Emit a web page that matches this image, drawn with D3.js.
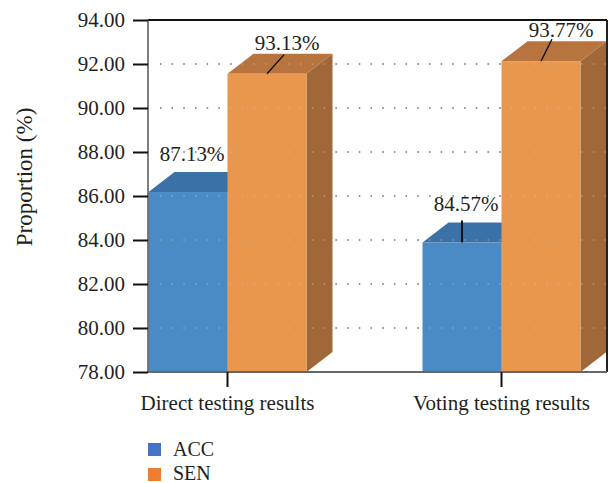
<!DOCTYPE html>
<meta charset="utf-8">
<title>Proportion</title>
<script src="https://d3js.org/d3.v7.min.js"></script>
<style>
  body { margin: 0; background: #fff; }
  text { font-family: "Liberation Serif", "DejaVu Serif", serif; fill: #231f20; }
</style>
<div id="my_dataviz"></div>
<script>
// data
var categories = ["Direct testing results", "Voting testing results"];
var series = ["ACC", "SEN"];
var accValues = [87.13, 84.57];
var senValues = [93.13, 93.77];
var yTicks = [78, 80, 82, 84, 86, 88, 90, 92, 94];

var colors = {
  ACC: { front: "#4a8bc6", top: "#3a72a8", side: "#33669a", legend: "#4472c4" },
  SEN: { front: "#ea974e", top: "#b8743f", side: "#a06838", legend: "#ed7d31" }
};

var W = 610, H = 483;
var plotLeft = 148, plotRight = 607, plotTop = 20, plotBottom = 372;
var depthX = 26, depthY = 20;
var frontScale = 0.896;   // front face is drawn a bit shorter than the back wall
var fontSize = "21px";

var svg = d3.select("#my_dataviz")
  .append("svg")
  .attr("width", W)
  .attr("height", H);

var y = d3.scaleLinear().domain([78, 94]).range([plotBottom, plotTop]);
var yFront = d3.scaleLinear().domain([78, 94])
  .range([plotBottom, plotBottom - (plotBottom - plotTop) * frontScale]);

var x0 = d3.scaleBand().domain(categories).range([90.5, 638.5]);
var x1 = d3.scaleBand().domain(series).range([0, 158]);

var rows = [];
categories.forEach(function (c, i) {
  rows.push({ cat: c, s: "ACC", v: accValues[i], ci: i });
  rows.push({ cat: c, s: "SEN", v: senValues[i], ci: i });
});
rows.forEach(function (d) {
  d.x = x0(d.cat) + (x0.bandwidth() - 158) / 2 + x1(d.s);
  d.w = x1.bandwidth();
  d.top = yFront(d.v);
});

// gridlines on the back wall
function gridlines(g, stroke, op) {
  g.selectAll("line")
    .data(yTicks.filter(function (t) { return t > 78 && t < 94; }))
    .enter().append("line")
    .attr("x1", plotLeft + 12).attr("x2", plotRight)
    .attr("y1", function (d) { return y(d); })
    .attr("y2", function (d) { return y(d); })
    .attr("stroke", stroke)
    .attr("stroke-width", 1.3)
    .attr("stroke-dasharray", "1.3,10.4")
    .attr("opacity", op);
}
svg.append("g").call(gridlines, "#333", 1);

// bars
var bars = svg.append("g");
rows.forEach(function (d) {
  var g = bars.append("g");
  var x = d.x, w = d.w, t = d.top;
  g.append("path")
    .attr("d", d3.line()([[x + w, t], [x + w + depthX, t - depthY], [x + w + depthX, plotBottom - depthY], [x + w, plotBottom]]))
    .attr("fill", colors[d.s].side);
  g.append("path")
    .attr("d", d3.line()([[x, t], [x + depthX, t - depthY], [x + w + depthX, t - depthY], [x + w, t]]))
    .attr("fill", colors[d.s].top);
  g.append("rect")
    .attr("x", x).attr("y", t)
    .attr("width", w).attr("height", plotBottom - t)
    .attr("fill", colors[d.s].front);
});

svg.append("g").call(gridlines, "#c8c8c8", 0.55);

// frame
svg.append("line").attr("x1", plotLeft).attr("x2", plotRight).attr("y1", plotTop).attr("y2", plotTop)
  .attr("stroke", "#111").attr("stroke-width", 2);
svg.append("line").attr("x1", plotRight).attr("x2", plotRight).attr("y1", plotTop).attr("y2", plotBottom)
  .attr("stroke", "#222").attr("stroke-width", 2);
svg.append("line").attr("x1", plotLeft).attr("x2", plotRight).attr("y1", plotBottom).attr("y2", plotBottom)
  .attr("stroke", "#666").attr("stroke-width", 2);
svg.append("line").attr("x1", plotLeft).attr("x2", plotLeft).attr("y1", plotTop).attr("y2", plotBottom)
  .attr("stroke", "#555").attr("stroke-width", 1.5);

// y axis
var yAxis = svg.append("g")
  .attr("transform", "translate(" + plotLeft + ",0)")
  .call(d3.axisLeft(y).tickValues(yTicks).tickSize(15).tickPadding(8)
    .tickFormat(function (d) { return d.toFixed(2); }));
yAxis.select(".domain").remove();
yAxis.selectAll(".tick line").attr("stroke", "#111").attr("stroke-width", 2);
yAxis.selectAll(".tick text").style("font-size", fontSize).attr("fill", "#231f20")
  .style("font-family", "Liberation Serif, serif");

// x axis
var xAxis = svg.append("g")
  .attr("transform", "translate(0," + plotBottom + ")")
  .call(d3.axisBottom(x0).tickSize(15).tickPadding(8));
xAxis.select(".domain").remove();
xAxis.selectAll(".tick line").attr("stroke", "#111").attr("stroke-width", 2);
xAxis.selectAll(".tick text").style("font-size", fontSize).attr("fill", "#231f20")
  .style("font-family", "Liberation Serif, serif");

// y title
svg.append("text")
  .attr("transform", "translate(32,177) rotate(-90)")
  .attr("text-anchor", "middle")
  .style("font-size", "23px")
  .text("Proportion (%)");

// data labels with leader lines
var leader = {
  "0ACC": null,
  "0SEN": [17, 19],
  "1ACC": [0, 22],
  "1SEN": [11, 22]
};
rows.forEach(function (d) {
  var cx = d.x + d.w / 2;
  var isSen = d.s === "SEN";
  var ld = leader[d.ci + d.s];
  if (ld) {
    svg.append("line")
      .attr("x1", cx).attr("y1", d.top)
      .attr("x2", cx + ld[0]).attr("y2", d.top - ld[1])
      .attr("stroke", "#111").attr("stroke-width", ld[0] === 0 ? 2 : 1.3);
  }
  svg.append("text")
    .attr("x", cx + (isSen ? 20 : 4))
    .attr("y", d.top - (isSen ? 24 : 31))
    .attr("text-anchor", "middle")
    .style("font-size", fontSize)
    .text(d.v.toFixed(2) + "%");
});

// legend
var legend = svg.append("g");
series.forEach(function (s, i) {
  legend.append("rect")
    .attr("x", 148).attr("y", 443 + i * 25)
    .attr("width", 13).attr("height", 13)
    .attr("fill", colors[s].legend);
  legend.append("text")
    .attr("x", 173).attr("y", 456 + i * 24)
    .style("font-size", "20px")
    .text(s);
});
</script>
